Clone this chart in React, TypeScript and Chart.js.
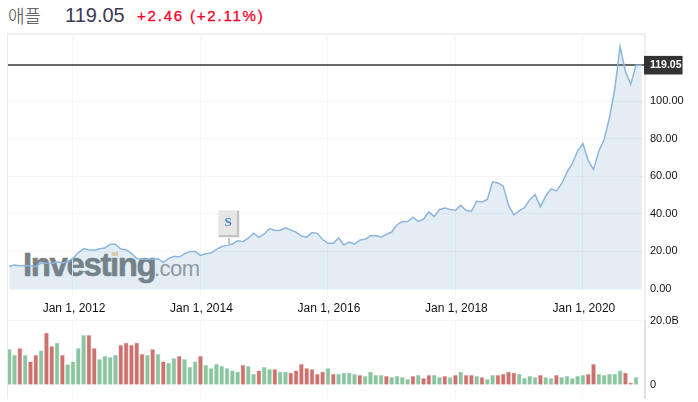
import React, { useEffect, useRef } from "react";
import { Chart, registerables } from "chart.js";

Chart.register(...registerables);

const stockName = "애플";
const lastPrice = 119.05;
const lastPriceText = "119.05";
const changeText = "+2.46 (+2.11%)";

// Monthly closes, Jan 2011 onward
const prices = [
  12.1, 12.7, 12.4, 12.5, 12.4, 11.9, 13.9, 13.7, 13.6, 14.5, 13.9, 14.5,
  16.3, 19.4, 21.4, 20.9, 20.6, 21.4, 21.8, 23.8, 23.8, 21.3, 20.9, 19.0,
  16.2, 15.8, 15.8, 15.8, 16.1, 14.2, 16.2, 17.4, 17.0, 18.7, 19.9, 20.0,
  17.9, 18.8, 19.2, 21.1, 22.6, 23.2, 23.9, 25.6, 25.2, 27.0, 29.7, 27.5,
  29.3, 32.1, 31.1, 31.3, 32.6, 31.4, 30.3, 28.2, 27.6, 30.0, 29.6, 26.3,
  24.3, 24.3, 27.2, 23.4, 25.0, 23.9, 26.0, 26.5, 28.3, 28.4, 27.6, 29.0,
  30.3, 34.2, 35.9, 35.9, 38.2, 36.0, 37.2, 41.0, 38.5, 42.3, 43.1, 42.3,
  41.9, 44.5, 41.9, 41.3, 46.7, 46.3, 47.6, 57.0, 56.4, 54.7, 44.6, 39.4,
  41.6, 43.3, 47.5, 50.2, 43.8, 49.5, 53.3, 52.2, 56.0, 62.2, 66.8, 73.4,
  77.4, 68.3, 63.6, 73.4, 79.5, 91.2, 106.3, 129.0, 115.8, 108.9, 119.05,
];

// Monthly volumes in billions
const volumes = [
  11.1, 9.3, 11.4, 9.3, 7.3, 9.3, 10.7, 16.2, 12.0, 13.1, 9.3, 6.4,
  7.3, 11.4, 15.5, 15.5, 11.4, 8.0, 9.0, 8.7, 9.3, 12.4, 13.1, 12.4,
  13.1, 9.6, 9.3, 11.1, 9.6, 7.3, 6.9, 8.3, 9.0, 8.0, 5.6, 7.3,
  9.0, 6.2, 5.2, 6.5, 5.9, 5.2, 4.5, 4.1, 6.2, 5.9, 3.4, 4.5,
  5.6, 4.9, 4.9, 4.1, 4.1, 3.8, 4.5, 6.5, 5.2, 4.9, 3.4, 4.1,
  5.2, 3.4, 3.4, 3.8, 3.8, 3.4, 3.1, 2.8, 4.1, 3.1, 3.1, 2.8,
  2.4, 2.8, 2.4, 1.8, 2.8, 3.1, 2.1, 3.1, 3.1, 2.4, 2.8, 2.4,
  3.1, 4.1, 3.1, 3.1, 2.8, 2.4, 1.8, 3.1, 3.1, 3.4, 4.1, 3.8,
  3.4, 2.1, 2.8, 2.4, 3.1, 2.4, 2.1, 3.1, 2.4, 2.8, 2.1, 2.8,
  3.1, 3.4, 6.5, 3.4, 3.1, 3.4, 3.4, 4.5, 3.8, 0.7, 2.4,
];

const volumeDirections = (
  "GGRGRRGRRGRG" + "GGGRRGGGGRRR" + "RRGRGRGGRGGG" + "RGGGGGGGRGGR" +
  "GGRGGRRRRRRR" + "GRGGGGRGGGGR" + "GGGGRGRRGGRG" + "RGRRGRGGRRRR" +
  "GGGGRGGRGGGG" + "GRRGGGGGRRG"
).split("");

const priceTicks = [0, 20, 40, 60, 80, 100, lastPrice];
const volumeTicks = [0, 20];
const yearTicks = [12, 36, 60, 84, 108];
const yearLabels = ["Jan 1, 2012", "Jan 1, 2014", "Jan 1, 2016", "Jan 1, 2018", "Jan 1, 2020"];
const splitMonth = 41;
const splitLabel = "S";
const lastMonthEdge = 119.1;

const X_MIN = -0.235;
const X_MAX = 119.5;
const AXIS_FONT = "'Liberation Sans', Arial, sans-serif";
const GRID = "#f5f6f8";

const splitFlag = {
  id: "splitFlag",
  afterDatasetsDraw(chart: any) {
    const ctx = chart.ctx;
    const x = Math.round(chart.scales.x.getPixelForValue(splitMonth)) + 2;
    const y = chart.scales.y.getPixelForValue(prices[splitMonth]);
    const left = x - 11;
    const top = 210;
    ctx.save();
    ctx.fillStyle = "#c4c4c4";
    ctx.fillRect(x - 1, top + 27, 2, y - top - 27);
    ctx.fillStyle = "#f0f0f0";
    ctx.fillRect(left, top, 22, 28);
    ctx.fillStyle = "#c2c2c2";
    ctx.fillRect(left + 1, top + 25, 20, 2);
    ctx.fillRect(left + 19, top + 1, 2, 25);
    ctx.fillStyle = "#e6e6e6";
    ctx.fillRect(left + 1, top + 1, 18, 24);
    ctx.fillStyle = "#3b7fd0";
    ctx.font = "bold 13px 'Liberation Serif', serif";
    ctx.textAlign = "center";
    ctx.textBaseline = "middle";
    ctx.fillText(splitLabel, left + 10, top + 13);
    ctx.restore();
  },
};

export default function App() {
  const priceRef = useRef<HTMLCanvasElement>(null);
  const volumeRef = useRef<HTMLCanvasElement>(null);

  useEffect(() => {
    const pricePoints: { x: number; y: number }[] = prices.map((y, i) => ({ x: i, y }));
    pricePoints.push({ x: lastMonthEdge, y: lastPrice });

    const priceChart = new Chart(priceRef.current as HTMLCanvasElement, {
      type: "line",
      data: {
        datasets: [
          {
            data: pricePoints,
            borderColor: "#8db6de",
            borderWidth: 1.5,
            backgroundColor: "rgba(90,150,185,0.17)",
            fill: "origin",
            pointRadius: 0,
            tension: 0,
          },
        ],
      },
      plugins: [splitFlag],
      options: {
        animation: false,
        responsive: false,
        layout: { padding: { top: 34, left: 8, right: 0, bottom: 0 } },
        plugins: { legend: { display: false }, tooltip: { enabled: false } },
        scales: {
          x: {
            type: "linear",
            min: X_MIN,
            max: X_MAX,
            afterBuildTicks: (s: any) => {
              s.ticks = yearTicks.map((value) => ({ value }));
            },
            afterFit: (s: any) => {
              s.height = 24;
              s.paddingLeft = 0;
              s.paddingRight = 0;
            },
            grid: { color: GRID, drawTicks: false },
            border: { display: false },
            ticks: {
              autoSkip: false,
              maxRotation: 0,
              padding: 5,
              labelOffset: 1,
              color: "#111",
              font: { family: AXIS_FONT, size: 12 },
              callback: (v: any) => yearLabels[yearTicks.indexOf(v)],
            },
          },
          y: {
            position: "right",
            min: -3.72,
            max: 135.64,
            afterBuildTicks: (s: any) => {
              s.ticks = priceTicks.map((value) => ({ value }));
            },
            afterFit: (s: any) => {
              s.width = 54;
              s.paddingTop = 0;
              s.paddingBottom = 0;
            },
            grid: {
              drawTicks: false,
              color: (c: any) => (c.tick && c.tick.value === lastPrice ? "#6a6a6a" : GRID),
              lineWidth: (c: any) => (c.tick && c.tick.value === lastPrice ? 2 : 1),
            },
            border: { display: false },
            ticks: {
              autoSkip: false,
              padding: 6,
              color: (c: any) => (c.tick && c.tick.value === lastPrice ? "#fff" : "#111"),
              font: (c: any) => ({
                family: AXIS_FONT,
                size: c.tick && c.tick.value === lastPrice ? 10.5 : 11,
                weight: c.tick && c.tick.value === lastPrice ? "bold" : "normal",
              }),
              showLabelBackdrop: (c: any) => !!c.tick && c.tick.value === lastPrice,
              backdropColor: "#333333",
              backdropPadding: { top: 3, bottom: 3, left: 6, right: 1 },
              callback: (v: any) => Number(v).toFixed(2),
            },
          },
        },
      },
    } as any);

    const volumeChart = new Chart(volumeRef.current as HTMLCanvasElement, {
      type: "bar",
      data: {
        datasets: [
          {
            data: volumes.map((y, i) => ({ x: i, y })),
            barThickness: 4.4,
            borderWidth: 0.8,
            borderSkipped: "bottom",
            backgroundColor: volumeDirections.map((d) => (d === "G" ? "#8bc4a1" : "#cd716e")),
            borderColor: volumeDirections.map((d) => (d === "G" ? "#d4e9dc" : "#efd3d2")),
          },
        ],
      },
      options: {
        animation: false,
        responsive: false,
        layout: { padding: { top: 10, left: 8, right: 0, bottom: 0 } },
        plugins: { legend: { display: false }, tooltip: { enabled: false } },
        scales: {
          x: {
            type: "linear",
            offset: false,
            min: X_MIN,
            max: X_MAX,
            afterBuildTicks: (s: any) => {
              s.ticks = yearTicks.map((value) => ({ value }));
            },
            afterFit: (s: any) => {
              s.height = 4;
              s.paddingLeft = 0;
              s.paddingRight = 0;
            },
            grid: { color: GRID, drawTicks: false, offset: false },
            border: { display: false },
            ticks: { display: false },
          },
          y: {
            position: "right",
            min: -4.04,
            max: 20.2,
            afterBuildTicks: (s: any) => {
              s.ticks = volumeTicks.map((value) => ({ value }));
            },
            afterFit: (s: any) => {
              s.width = 54;
              s.paddingTop = 0;
              s.paddingBottom = 0;
            },
            grid: {
              drawTicks: false,
              color: (c: any) => (c.tick && c.tick.value === 0 ? "rgba(0,0,0,0)" : GRID),
            },
            border: { display: false },
            ticks: {
              autoSkip: false,
              padding: 6,
              color: "#111",
              font: { family: AXIS_FONT, size: 11 },
              callback: (v: any) => (v === 0 ? "0" : Number(v).toFixed(1) + "B"),
            },
          },
        },
      },
    } as any);

    return () => {
      priceChart.destroy();
      volumeChart.destroy();
    };
  }, []);

  const abs = (s: React.CSSProperties): React.CSSProperties => ({ position: "absolute", whiteSpace: "nowrap", ...s });

  return (
    <div style={abs({ left: 0, top: 0, width: 698, height: 402, background: "#fff", overflow: "hidden" })}>
      <span style={abs({ left: 8, top: 3, fontSize: 18, lineHeight: "24px", color: "#444", fontFamily: "'Noto Sans CJK KR', sans-serif", fontWeight: 300 })}>
        {stockName}
      </span>
      <span style={abs({ left: 65, top: 3, fontSize: 20, lineHeight: "24px", color: "#3a3a55", fontFamily: AXIS_FONT })}>
        {lastPriceText}
      </span>
      <span style={abs({ left: 137, top: 4, fontSize: 15, lineHeight: "24px", letterSpacing: "1.8px", color: "#f5002a", fontFamily: AXIS_FONT, WebkitTextStroke: "0.3px #f5002a" })}>
        {changeText}
      </span>

      <div style={abs({ left: 7, top: 33, width: 639, height: 2, background: "#f0f1f5" })} />
      <div style={abs({ left: 7, top: 33, width: 1, height: 366, background: "#e9eaee" })} />
      <div style={abs({ left: 644, top: 33, width: 2, height: 287, background: "#eef0f3" })} />
      <div style={abs({ left: 644, top: 320, width: 2, height: 79, background: "#d9e3ee" })} />

      <span style={abs({ left: 23, top: 245, fontSize: 33, lineHeight: "40px", fontWeight: 700, letterSpacing: "-1.4px", color: "#7b7f83", fontFamily: AXIS_FONT, WebkitTextStroke: "0.6px #7b7f83" })}>
        Investing
      </span>
      <span style={abs({ left: 154, top: 255, fontSize: 22, lineHeight: "28px", letterSpacing: "-0.5px", color: "#9a9da0", fontFamily: AXIS_FONT })}>
        .com
      </span>
      <div style={abs({ left: 112, top: 251, width: 6, height: 5, background: "#efd9a6" })} />

      <canvas ref={priceRef} width={698} height={320} style={abs({ left: 0, top: 0 })} />
      <canvas ref={volumeRef} width={698} height={92} style={abs({ left: 0, top: 310 })} />
    </div>
  );
}
